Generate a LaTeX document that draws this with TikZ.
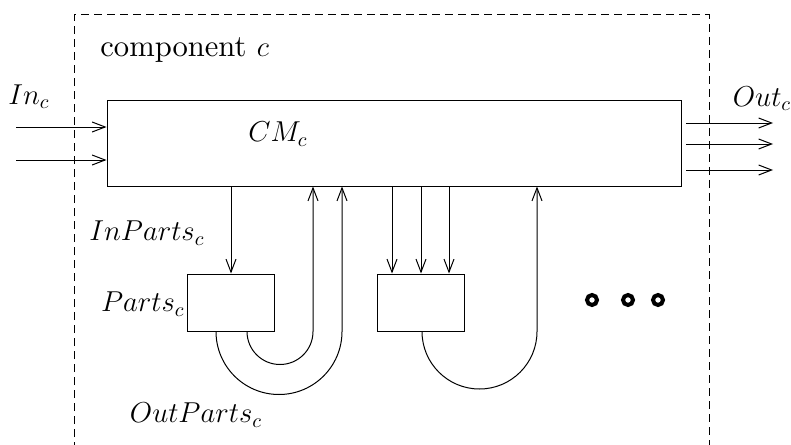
\documentclass[tikz,border=0pt]{standalone}
\usetikzlibrary{arrows.meta}
\font\compfont=cmr10 at 15.3pt
\begin{document}
\begin{tikzpicture}[x=0.5pt,y=-0.5pt,
  every node/.style={font=\fontsize{14.4}{17}\selectfont, inner sep=0pt},
  line/.style={line width=0.5pt},
  arr/.style={line width=0.5pt,-{Straight Barb[length=6.5pt,width=5pt,line width=0.5pt]}},
  boxstyle/.style={draw,line width=0.5pt,rectangle},
  frame/.style={line width=0.5pt,dash pattern=on 4pt off 2.5pt},
  dotring/.style={line width=2pt}]
\useasboundingbox (0,0) rectangle (791,444);
% frame
\coordinate (fbl) at (74,450);
\coordinate (ftl) at (74,15);
\coordinate (ftr) at (709,15);
\coordinate (fbr) at (709,450);
\draw[frame] (fbl) -- (ftl) -- (ftr) -- (fbr);
\node[anchor=base west] (comp) at (100,57) {\compfont component $c$};
% main box
\node[boxstyle, minimum width=287pt, minimum height=42.5pt] (CM) at (394,143.5) {};
\node (cmlab) at (278,134) {$CM_c$};
% inputs
\coordinate (i1) at (16,127);
\coordinate (i2) at (16,160);
\draw[arr] (i1) -- (i1 -| CM.west);
\draw[arr] (i2) -- (i2 -| CM.west);
\node (inlab) at (29,97) {$In_c$};
% outputs
\coordinate (o1) at (686,123);
\coordinate (o2) at (686,144);
\coordinate (o3) at (686,170);
\coordinate (e1) at (773,123);
\coordinate (e2) at (773,144);
\coordinate (e3) at (773,170);
\draw[arr] (o1) -- (e1);
\draw[arr] (o2) -- (e2);
\draw[arr] (o3) -- (e3);
\node (outlab) at (762,99) {$Out_c$};
% parts boxes
\node[boxstyle, minimum width=43.5pt, minimum height=28.5pt] (P1) at (230.5,302.5) {};
\node[boxstyle, minimum width=43.5pt, minimum height=28.5pt] (P2) at (420.5,302.5) {};
\node[anchor=east] (partslab) at (185,304) {$Parts_c$};
\node (inpartslab) at (147,233) {$InParts_c$};
\node (outpartslab) at (196,415) {$OutParts_c$};
% down arrows
\coordinate (d1) at (231,0);
\coordinate (d2) at (392,0);
\coordinate (d3) at (421,0);
\coordinate (d4) at (449,0);
\draw[arr] (d1 |- CM.south) -- (d1 |- P1.north);
\draw[arr] (d2 |- CM.south) -- (d2 |- P2.north);
\draw[arr] (d3 |- CM.south) -- (d3 |- P2.north);
\draw[arr] (d4 |- CM.south) -- (d4 |- P2.north);
% feedback loops
\coordinate (u1) at (247,0);
\coordinate (u2) at (216,0);
\coordinate (u3) at (422,0);
\draw[arr] (u1 |- P1.south) arc[start angle=180, end angle=360, radius=16.5pt] -- ++(0,-145) coordinate (t1);
\draw[arr] (u2 |- P1.south) arc[start angle=180, end angle=360, radius=31.5pt] -- ++(0,-145) coordinate (t2);
\draw[arr] (u3 |- P2.south) arc[start angle=180, end angle=360, radius=28.75pt] -- ++(0,-145) coordinate (t3);
% dots
\draw[dotring] (592,300) circle[radius=2.5pt];
\draw[dotring] (628,300) circle[radius=2.5pt];
\draw[dotring] (658,300) circle[radius=2.5pt];
\end{tikzpicture}
\end{document}
